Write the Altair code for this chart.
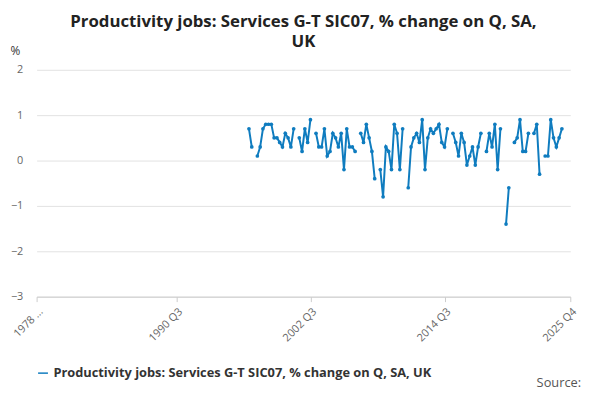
import altair as alt
import pandas as pd

series_name = "Productivity jobs: Services G-T SIC07, % change on Q, SA, UK"
start_year, start_q = 1997, 1
values = [
    0.7, 0.3, None, 0.1, 0.3, 0.7, 0.8, 0.8, 0.8, 0.5, 0.5, 0.4, 0.3, 0.6, 0.5, 0.3, 0.7, None,
    0.5, 0.2, 0.7, 0.4, 0.9, None, 0.6, 0.3, 0.3, 0.7, 0.1, 0.2, 0.6, 0.5, 0.3, 0.6, -0.2,
    0.7, 0.3, 0.3, 0.2, None, 0.6, 0.4, 0.8, 0.5, 0.2, -0.4, None, -0.2, -0.8, 0.3, 0.2,
    -0.2, 0.8, 0.6, -0.2, 0.7, None, -0.6, 0.3, 0.5, 0.6, 0.4, 0.9, -0.2, 0.5, 0.7, 0.6,
    0.7, 0.8, 0.4, 0.3, 0.7, None, 0.6, 0.4, 0.1, 0.6, 0.4, -0.1, 0.1, 0.3, -0.1, 0.3, 0.6,
    None, 0.2, 0.6, 0.3, 0.8, -0.2, 0.7, None, -1.4, -0.6, None, 0.4, 0.5, 0.9, 0.2, 0.2,
    0.6, None, 0.6, 0.8, -0.3, None, 0.1, 0.1, 0.9, 0.5, 0.3, 0.5, 0.7,
]
tick_idx = [0, 50, 98, 146, 191]
tick_labels = ["1978 …", "1990 Q3", "2002 Q3", "2014 Q3", "2025 Q4"]

first = (start_year - 1978) * 4 + (start_q - 1)
df = pd.DataFrame({"idx": [first + i for i in range(len(values))], "value": values})
df["series"] = series_name

label_expr = " : ".join(
    f"datum.value == {i} ? '{l}'" for i, l in zip(tick_idx, tick_labels)
) + " : ''"

line = alt.Chart(df).mark_line(
    point=alt.OverlayMarkDef(size=14, filled=True),
    strokeWidth=2,
    invalid="break-paths-filter-domains",
).encode(
    x=alt.X("idx:Q", title=None,
            scale=alt.Scale(domain=[0, 191], nice=False, zero=False),
            axis=alt.Axis(values=tick_idx, labelExpr=label_expr, labelAngle=-45,
                          grid=False, labelColor="#666", labelFontSize=11,
                          tickColor="#ccc", domainColor="#ccc", labelPadding=4)),
    y=alt.Y("value:Q", scale=alt.Scale(domain=[-3, 2]),
            axis=alt.Axis(values=[-3, -2, -1, 0, 1, 2], title="%", titleAngle=0,
                          titleX=-22, titleY=-12, titleFontWeight="normal",
                          titleFontSize=12, titleColor="#333", labelColor="#666",
                          labelFontSize=11, domain=False, ticks=False,
                          gridColor="#e2e2e2", labelPadding=14)),
    color=alt.Color("series:N", scale=alt.Scale(range=["#0f7cbf"]),
                    legend=alt.Legend(title=None, orient="bottom", labelFontSize=13,
                                      labelFontWeight="bold", labelColor="#333",
                                      labelLimit=500, symbolType="stroke",
                                      offset=23)),
)

source = alt.Chart(pd.DataFrame({"t": ["Source:"]})).mark_text(
    align="right", fontSize=13, color="#555", font="Open Sans"
).encode(text="t:N", x=alt.value(552), y=alt.value(318))

chart = alt.layer(line, source).properties(
    width=541, height=230,
    autosize=alt.AutoSizeParams(type="none"),
    padding={"left": 29, "top": 60, "right": 22, "bottom": 94},
    title=alt.Title(["Productivity jobs: Services G-T SIC07, % change on Q, SA,", "UK"],
                    fontSize=17, fontWeight="bold", color="#222", offset=-6,
                    lineHeight=20, anchor="middle", font="Open Sans"),
).configure(font="Open Sans").configure_view(stroke=None)

chart.save("out.html", embed_options={"renderer": "svg", "actions": False})
